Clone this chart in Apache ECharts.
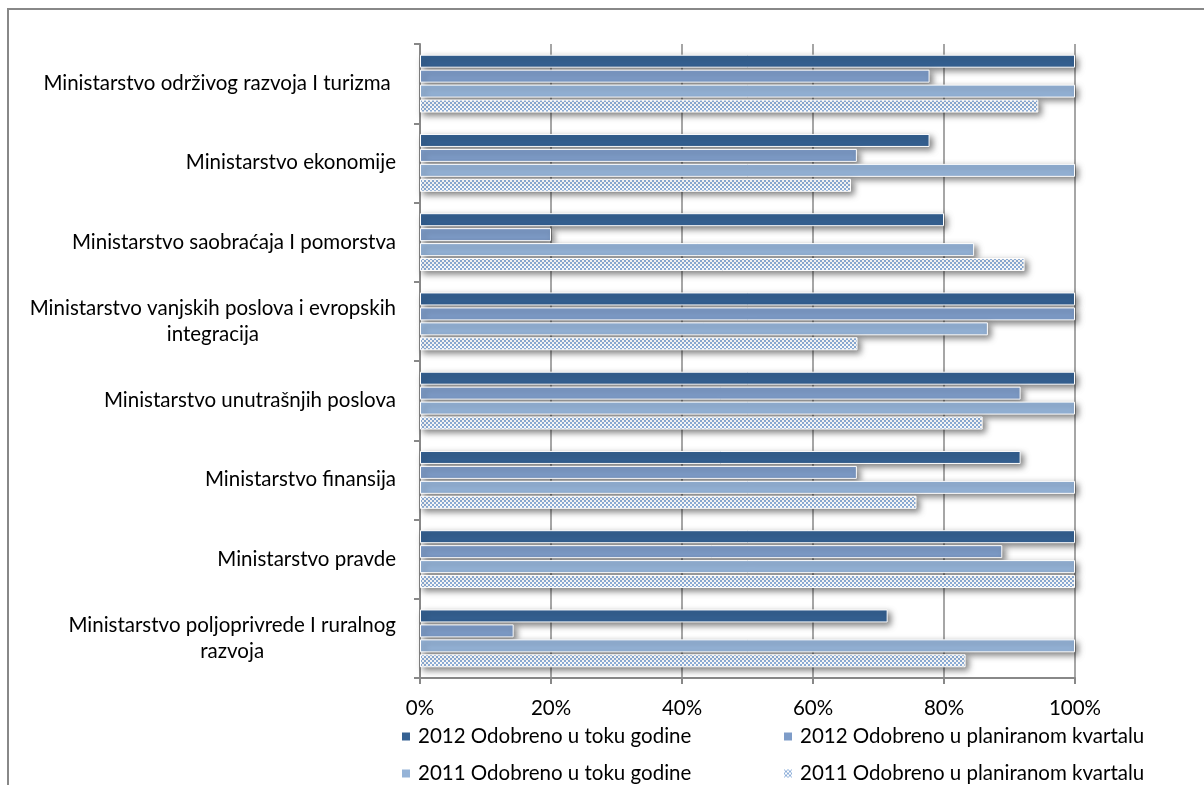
<!DOCTYPE html>
<html>
<head>
<meta charset="utf-8">
<script src="https://cdn.jsdelivr.net/npm/echarts@6/dist/echarts.min.js"></script>
<style>
html,body{margin:0;padding:0;background:#fff;}
#chart{width:1204px;height:785px;}
</style>
</head>
<body>
<div id="chart"></div>
<script>
const categories = [
  'Ministarstvo održivog razvoja I turizma ',
  'Ministarstvo ekonomije',
  'Ministarstvo saobraćaja I pomorstva',
  'Ministarstvo vanjskih poslova i evropskih\nintegracija',
  'Ministarstvo unutrašnjih poslova',
  'Ministarstvo finansija',
  'Ministarstvo pravde',
  'Ministarstvo poljoprivrede I ruralnog\nrazvoja'
];
const seriesNames = [
  '2012 Odobreno u toku godine',
  '2012 Odobreno u planiranom kvartalu',
  '2011 Odobreno u toku godine',
  '2011 Odobreno u planiranom kvartalu'
];
const s2012Toku = [100, 77.8, 80, 100, 100, 91.7, 100, 71.4];
const s2012Kvartal = [77.8, 66.7, 20, 100, 91.7, 66.7, 88.9, 14.3];
const s2011Toku = [100, 100, 84.6, 86.7, 100, 100, 100, 100];
const s2011Kvartal = [94.4, 65.8, 92.3, 66.8, 85.9, 75.8, 100, 83.3];
const xTicks = [0, 20, 40, 60, 80, 100];

const FONT = 'Lato';
const FS = 20.5;

function makePattern() {
  const c = document.createElement('canvas');
  c.width = 4; c.height = 4;
  const ctx = c.getContext('2d');
  ctx.fillStyle = '#ffffff';
  ctx.fillRect(0, 0, 4, 4);
  ctx.fillStyle = '#8fb0da';
  ctx.fillRect(0, 0, 2, 2);
  ctx.fillRect(2, 2, 2, 2);
  return c;
}

const colors = ['#356192', '#7e9cc8', '#95b3d7', {image: makePattern(), repeat: 'repeat'}];
const dataSets = [s2012Toku, s2012Kvartal, s2011Toku, s2011Kvartal];

const chart = echarts.init(document.getElementById('chart'), null, {renderer: 'canvas'});

const series = dataSets.map((d, i) => ({
  name: seriesNames[i],
  type: 'bar',
  data: d,
  barCategoryGap: '27%',
  barGap: '15%',
  itemStyle: {
    color: colors[i],
    borderColor: '#ffffff',
    borderWidth: 1,
    shadowColor: 'rgba(0,0,0,0.5)',
    shadowBlur: 6,
    shadowOffsetX: 3,
    shadowOffsetY: 3
  },
  emphasis: {disabled: true}
}));

const legendPos = [
  {left: 400, top: 726},
  {left: 782, top: 726},
  {left: 400, top: 763},
  {left: 782, top: 763}
];
const legends = seriesNames.map((n, i) => ({
  data: [n],
  left: legendPos[i].left,
  top: legendPos[i].top,
  orient: 'horizontal',
  icon: 'rect',
  itemWidth: 10,
  itemHeight: 10,
  selectedMode: false,
  padding: 0,
  textStyle: {fontFamily: FONT, fontSize: FS, color: '#000', padding: [0, 0, 0, 2]}
}));

chart.setOption({
  backgroundColor: '#fff',
  animation: false,
  graphic: [{
    type: 'rect',
    shape: {x: 8, y: 9, width: 1300, height: 900},
    style: {fill: 'none', stroke: '#888888', lineWidth: 2},
    silent: true,
    z: -1
  }],
  grid: {left: 420, right: 129, top: 44, bottom: 107, containLabel: false},
  legend: legends,
  xAxis: {
    type: 'value',
    min: xTicks[0],
    max: xTicks[xTicks.length - 1],
    interval: xTicks[1] - xTicks[0],
    axisLine: {show: true, lineStyle: {color: '#888888', width: 2}},
    axisTick: {show: true, length: 6, lineStyle: {color: '#888888', width: 2}},
    splitLine: {show: true, lineStyle: {color: '#888888', width: 1.5}},
    axisLabel: {
      formatter: '{value}%',
      fontFamily: FONT, fontSize: FS, color: '#000', margin: 20
    }
  },
  yAxis: {
    type: 'category',
    inverse: true,
    data: categories,
    axisLine: {show: true, lineStyle: {color: '#888888', width: 2}},
    axisTick: {show: true, length: 6, lineStyle: {color: '#888888', width: 2}},
    splitLine: {show: false},
    axisLabel: {
      margin: 24,
      fontFamily: FONT, fontSize: FS, color: '#000',
      formatter: function (v) {
        return v.split('\n').map(l => '{a|' + l + '}').join('\n');
      },
      rich: {
        a: {align: 'center', fontFamily: FONT, fontSize: FS, color: '#000', lineHeight: 26}
      }
    }
  },
  series: series
});
</script>
</body>
</html>
